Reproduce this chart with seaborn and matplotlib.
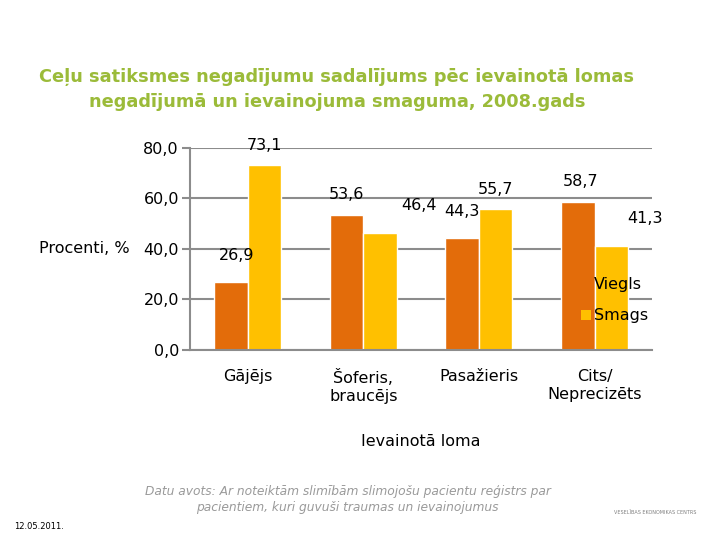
import pandas as pd
import matplotlib.pyplot as plt
import seaborn as sns
from matplotlib.ticker import FuncFormatter

# dati
lomas = ['Gājējs', 'Šoferis,\nbraucējs', 'Pasažieris', 'Cits/\nNeprecizēts']
viegls = [26.9, 53.6, 44.3, 58.7]
smags = [73.1, 46.4, 55.7, 41.3]
smagumi = ['Viegls', 'Smags']

df = pd.DataFrame({
    'loma': lomas * 2,
    'procenti': viegls + smags,
    'smagums': ['Viegls'] * len(lomas) + ['Smags'] * len(lomas),
})

sns.set_style('white')
plt.rcParams['font.family'] = ['DejaVu Sans']
plt.rcParams['text.color'] = 'black'
plt.rcParams['axes.labelcolor'] = 'black'
plt.rcParams['xtick.color'] = 'black'
plt.rcParams['ytick.color'] = 'black'

fig = plt.figure(figsize=(7.2, 5.4), dpi=100)
ax = fig.add_axes([0.264, 0.352, 0.642, 0.374])

sns.barplot(data=df, x='loma', y='procenti', hue='smagums', hue_order=smagumi,
            order=lomas, palette=['#E36C0A', '#FFC000'], width=0.58, saturation=1,
            edgecolor='white', linewidth=1, errorbar=None, ax=ax)

ax.set_ylim(0, 80)
ax.set_yticks([0, 20, 40, 60, 80])
ax.yaxis.set_major_formatter(FuncFormatter(lambda v, p: f'{v:.1f}'.replace('.', ',')))
ax.grid(axis='y', color='#8c8c8c', linewidth=1.5, zorder=0)
ax.set_axisbelow(True)
for s in ['top', 'right']:
    ax.spines[s].set_visible(False)
for s in ['left', 'bottom']:
    ax.spines[s].set_color('#8c8c8c')
    ax.spines[s].set_linewidth(1.5)
ax.tick_params(axis='y', length=6, width=1.5, color='#8c8c8c', labelsize=11.5, pad=2, left=True)
ax.tick_params(axis='x', length=0, labelsize=11.5, pad=14)

ax.set_ylabel('Procenti, %', rotation=0, ha='right', va='center', fontsize=11.5)
ax.yaxis.set_label_coords(-0.13, 0.5)
ax.set_xlabel('Ievainotā loma', fontsize=11.5, labelpad=22)

# vērtību etiķetes
offsets = [[(4, 14), (0, 9), (0, 14), (2, 9)],
           [(0, 9), (28, 14), (0, 9), (24, 14)]]
for k, cont in enumerate(ax.containers):
    for i, bar in enumerate(cont):
        ax.annotate(f'{bar.get_height():.1f}'.replace('.', ','),
                    (bar.get_x() + bar.get_width() / 2, bar.get_height()),
                    xytext=offsets[k][i], textcoords='offset points',
                    ha='center', va='bottom', fontsize=11.5)

leg = ax.legend(frameon=False, loc='upper left', bbox_to_anchor=(0.815, 0.43),
                handlelength=0.6, handleheight=0.6, handletextpad=0.2,
                labelspacing=1.0, fontsize=11.5, title=None)
for h in leg.legend_handles:
    h.set_edgecolor('none')

fig.text(0.468, 0.835, 'Ceļu satiksmes negadījumu sadalījums pēc ievainotā lomas\n'
         'negadījumā un ievainojuma smaguma, 2008.gads',
         ha='center', va='center', fontsize=12.8, fontweight='bold',
         color='#9BBB39', linespacing=1.5)

fig.text(0.483, 0.075, 'Datu avots: Ar noteiktām slimībām slimojošu pacientu reģistrs par\n'
         'pacientiem, kuri guvuši traumas un ievainojumus',
         ha='center', va='center', fontsize=8.8, style='italic',
         color='#9a9a9a', fontweight='light')
fig.text(0.02, 0.025, '12.05.2011.', ha='left', va='center', fontsize=6)
fig.text(0.91, 0.05, 'VESELĪBAS EKONOMIKAS CENTRS', ha='center', va='center',
         fontsize=3.5, color='#7f7f7f')

plt.savefig('out.png', dpi=100)
